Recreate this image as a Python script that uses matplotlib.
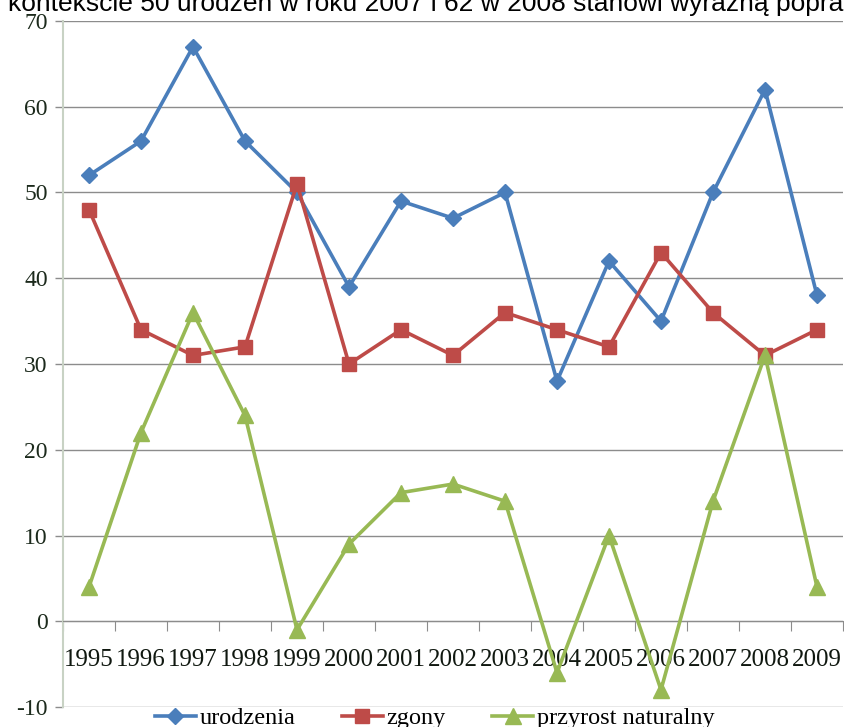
import matplotlib
matplotlib.use("Agg")
import matplotlib.pyplot as plt
import numpy as np

years = ["1995", "1996", "1997", "1998", "1999", "2000", "2001", "2002",
         "2003", "2004", "2005", "2006", "2007", "2008", "2009"]
urodzenia = [52, 56, 67, 56, 50, 39, 49, 47, 50, 28, 42, 35, 50, 62, 38]
zgony = [48, 34, 31, 32, 51, 30, 34, 31, 36, 34, 32, 43, 36, 31, 34]
przyrost = [4, 22, 36, 24, -1, 9, 15, 16, 14, -6, 10, -8, 14, 31, 4]

W, H = 844, 727
fig = plt.figure(figsize=(W / 100, H / 100), dpi=100)
ax = fig.add_axes([63 / W, 20 / H, 780 / W, 686 / H])

x = np.arange(len(years))
ax.plot(x, urodzenia, color="#4A7EBB", lw=2.6, marker="D", ms=8.5,
        label="urodzenia", clip_on=False, zorder=3)
ax.plot(x, zgony, color="#BE4B48", lw=2.6, marker="s", ms=10,
        label="zgony", clip_on=False, zorder=3)
ax.plot(x, przyrost, color="#98B954", lw=2.6, marker="^", ms=11,
        label="przyrost naturalny", clip_on=False, zorder=3)

ax.set_xlim(-0.5, len(years) - 0.5)
ax.set_ylim(-10, 70)
ax.yaxis.grid(True, color="#8c8c8c", lw=1)
ax.set_axisbelow(True)

serif = "Liberation Serif"
ax.set_yticks(range(-10, 71, 10))
ax.set_yticklabels([str(v) for v in range(-10, 71, 10)], fontfamily=serif,
                   fontsize=17, color="#1c2a1c")
ax.tick_params(axis="y", length=6, color="#8c8c8c", width=1, pad=5)

# x axis at zero, ticks between categories, labels at centres
ax.spines["bottom"].set_position(("data", 0))
ax.spines["bottom"].set_color("#8c8c8c")
ax.set_xticks(np.arange(-0.5, len(years), 1.0))
ax.set_xticklabels([])
ax.tick_params(axis="x", which="major", direction="out", length=7,
               color="#8c8c8c")
ax.set_xticks(x, minor=True)
ax.set_xticklabels(years, minor=True, fontfamily=serif, fontsize=18,
                   color="#101810")
ax.tick_params(axis="x", which="minor", length=0, pad=20)

ax.spines["left"].set_color("#c8d2c4")
ax.spines["left"].set_linewidth(1.5)
ax.spines["top"].set_visible(False)
ax.spines["right"].set_visible(False)

fig.text(8 / W, 1 - 11 / H,
         "kontekście 50 urodzeń w roku 2007 i 62 w 2008 stanowi wyraźną poprawę",
         fontfamily="Liberation Sans", fontsize=19, va="baseline", ha="left")

leg = fig.legend(loc="center", bbox_to_anchor=(0.515, 1 - 718 / H), ncol=3,
                 frameon=False, prop={"family": serif, "size": 17.5},
                 handlelength=1.7, columnspacing=1.9, handletextpad=0.15,
                 borderpad=0)

fig.savefig("out.png", dpi=100)
